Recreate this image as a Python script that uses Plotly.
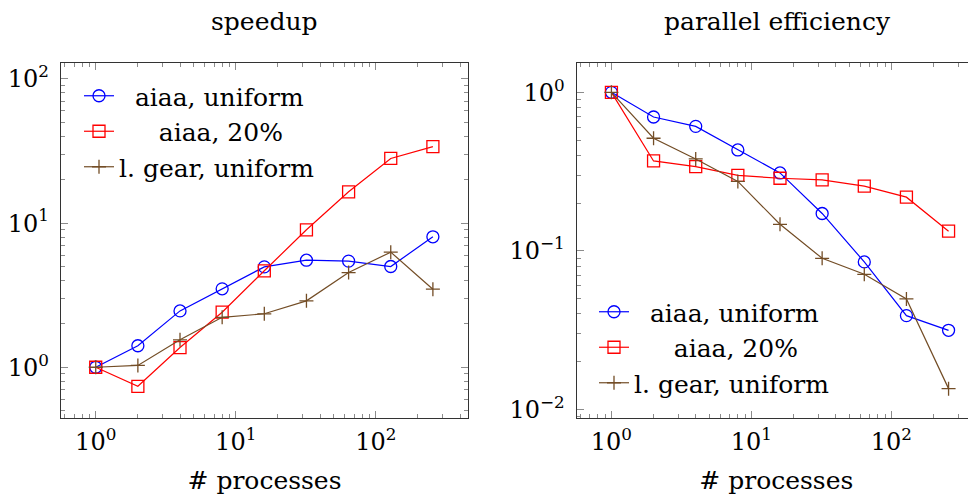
import plotly.graph_objects as go

# ---------------- data ----------------
processes = [1, 2, 4, 8, 16, 32, 64, 128, 256]

speedup_aiaa_uniform = [1.0, 1.41, 2.46, 3.50, 4.97, 5.53, 5.45, 5.0, 8.04]
speedup_aiaa_20 = [1.0, 0.738, 1.37, 2.41, 4.67, 8.99, 16.5, 28.1, 33.9]
speedup_gear_uniform = [1.0, 1.03, 1.55, 2.22, 2.35, 2.89, 4.54, 6.29, 3.48]

eff_aiaa_uniform = [1.0, 0.699, 0.610, 0.433, 0.310, 0.172, 0.0851, 0.039, 0.0315]
eff_aiaa_20 = [1.0, 0.369, 0.340, 0.299, 0.287, 0.280, 0.256, 0.218, 0.133]
eff_gear_uniform = [1.0, 0.513, 0.380, 0.274, 0.147, 0.0897, 0.0711, 0.0497, 0.0135]

series_names = ["aiaa, uniform", "aiaa, 20%", "l. gear, uniform"]
panel_titles = ["speedup", "parallel efficiency"]
x_title = "# processes"

x_tickvals = [1, 10, 100]
x_ticktext = ["10<sup>0</sup>", "10<sup>1</sup>", "10<sup>2</sup>"]
y1_tickvals = [1, 10, 100]
y1_ticktext = ["10<sup>0</sup>", "10<sup>1</sup>", "10<sup>2</sup>"]
y2_tickvals = [0.01, 0.1, 1]
y2_ticktext = ["10<sup>\u22122</sup>", "10<sup>\u22121</sup>", "10<sup>0</sup>"]

# ---------------- style ----------------
FONT = "DejaVu Serif"
FS = 25
TFS = 24
colors = ["#0000ff", "#ff0000", "#734d26"]
symbols = ["circle-open", "square-open", "cross-thin"]
msizes = [12, 12, 10]
name_pad = [2, 5, 0]   # nbsp padding to mimic centred legend text

# the page body has an 8px margin: the figure is placed at (8, 8)
OFF = 8
W, H = 976 - OFF, 495 - OFF


def px_x(p):
    return (p - OFF) / W


def px_y(p):
    return (H - (p - OFF)) / H


def minor_vals(lo, hi):
    out = []
    for d in range(lo, hi + 1):
        for k in range(2, 10):
            out.append(k * 10.0 ** d)
    return out


def axis(rng, domain, anchor, tickvals, ticktext, minors, standoff, title=None):
    a = dict(
        type="log", range=rng, domain=domain, anchor=anchor, automargin=False,
        showline=True, linecolor="#333333", linewidth=1.3, mirror="allticks",
        ticks="inside", ticklen=7, tickwidth=1.2, tickcolor="#8c8c8c",
        tickmode="array", tickvals=tickvals, ticktext=ticktext,
        minor=dict(ticks="inside", ticklen=4, tickwidth=1.0, tickcolor="#8c8c8c",
                   tickmode="array", tickvals=minors, showgrid=False),
        showgrid=False, zeroline=False, ticklabelstandoff=standoff,
        tickfont=dict(family=FONT, size=TFS, color="black"),
    )
    if title:
        a["title"] = dict(text=title, font=dict(family=FONT, size=FS, color="black"), standoff=17)
    return a


fig = go.Figure()

left_series = [speedup_aiaa_uniform, speedup_aiaa_20, speedup_gear_uniform]
right_series = [eff_aiaa_uniform, eff_aiaa_20, eff_gear_uniform]

for i, ys in enumerate(left_series):
    fig.add_trace(go.Scatter(
        x=processes, y=ys, xaxis="x", yaxis="y", mode="lines+markers",
        name="\u00a0" * name_pad[i] + series_names[i], legend="legend",
        legendgroup="L%d" % i,
        line=dict(color=colors[i], width=1.2),
        marker=dict(symbol=symbols[i], size=msizes[i], color=colors[i],
                    line=dict(color=colors[i], width=1.3)),
    ))
for i, ys in enumerate(right_series):
    fig.add_trace(go.Scatter(
        x=processes, y=ys, xaxis="x2", yaxis="y2", mode="lines+markers",
        name="\u00a0" * name_pad[i] + series_names[i], legend="legend2",
        legendgroup="R%d" % i,
        line=dict(color=colors[i], width=1.2),
        marker=dict(symbol=symbols[i], size=msizes[i], color=colors[i],
                    line=dict(color=colors[i], width=1.3)),
    ))

ydom = [px_y(418), px_y(62.7)]

legend_common = dict(
    xanchor="left", yanchor="top", bgcolor="rgba(0,0,0,0)",
    font=dict(family=FONT, size=FS, color="black"),
    tracegroupgap=0, itemwidth=30,
)

fig.update_layout(
    width=W, height=H,
    margin=dict(l=0, r=0, t=0, b=0),
    paper_bgcolor="white", plot_bgcolor="white",
    xaxis=axis([-0.248, 2.659], [px_x(61), px_x(468)], "y", x_tickvals, x_ticktext,
               minor_vals(-1, 2), 2, x_title),
    yaxis=axis([-0.352, 2.113], ydom, "x", y1_tickvals, y1_ticktext, minor_vals(-1, 2), 6),
    xaxis2=axis([-0.248, -0.248 + (976 - 576.7) / 140.0], [px_x(576.7), 1.0], "y2",
                x_tickvals, x_ticktext, minor_vals(-1, 2), 2, x_title),
    yaxis2=axis([-2.055, 0.187], ydom, "x2", y2_tickvals, y2_ticktext, minor_vals(-3, 0), 6),
    legend=dict(x=px_x(79), y=px_y(73), **legend_common),
    legend2=dict(x=px_x(594), y=px_y(289), **legend_common),
    annotations=[
        dict(text=panel_titles[0], x=px_x(264.5), y=px_y(22), xref="paper", yref="paper",
             showarrow=False, xanchor="center", yanchor="middle",
             font=dict(family=FONT, size=FS, color="black")),
        dict(text=panel_titles[1], x=px_x(777), y=px_y(22), xref="paper", yref="paper",
             showarrow=False, xanchor="center", yanchor="middle",
             font=dict(family=FONT, size=FS, color="black")),
    ],
)

fig.write_html("out.html")
